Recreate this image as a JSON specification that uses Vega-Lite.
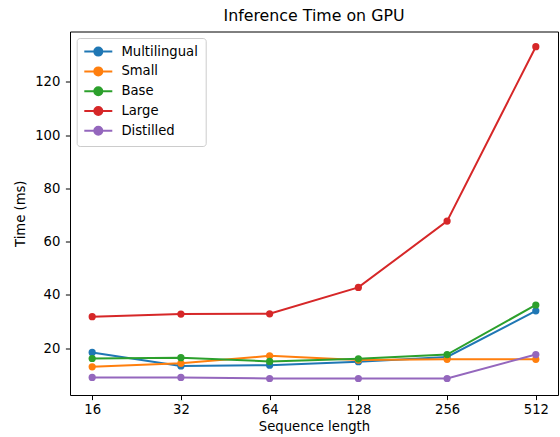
{
  "$schema": "https://vega.github.io/schema/vega-lite/v6.json",
  "autosize": {"type": "none"},
  "padding": {"left": 70, "top": 31.5, "right": 2, "bottom": 42},
  "width": 488,
  "height": 363.5,
  "background": "white",
  "title": {"text": "Inference Time on GPU", "fontSize": 15.8, "fontWeight": "normal", "font": "DejaVu Sans", "color": "black", "offset": 7},
  "data": {"values": [
    {"len": 16, "model": "Multilingual", "time": 18.4},
    {"len": 32, "model": "Multilingual", "time": 13.3},
    {"len": 64, "model": "Multilingual", "time": 13.6},
    {"len": 128, "model": "Multilingual", "time": 14.9},
    {"len": 256, "model": "Multilingual", "time": 16.7},
    {"len": 512, "model": "Multilingual", "time": 34.0},
    {"len": 16, "model": "Small", "time": 13.0},
    {"len": 32, "model": "Small", "time": 14.3},
    {"len": 64, "model": "Small", "time": 17.1},
    {"len": 128, "model": "Small", "time": 15.5},
    {"len": 256, "model": "Small", "time": 15.8},
    {"len": 512, "model": "Small", "time": 15.8},
    {"len": 16, "model": "Base", "time": 16.1},
    {"len": 32, "model": "Base", "time": 16.4},
    {"len": 64, "model": "Base", "time": 15.0},
    {"len": 128, "model": "Base", "time": 16.0},
    {"len": 256, "model": "Base", "time": 17.6},
    {"len": 512, "model": "Base", "time": 36.2},
    {"len": 16, "model": "Large", "time": 31.8},
    {"len": 32, "model": "Large", "time": 32.8},
    {"len": 64, "model": "Large", "time": 32.9},
    {"len": 128, "model": "Large", "time": 42.8},
    {"len": 256, "model": "Large", "time": 67.7},
    {"len": 512, "model": "Large", "time": 133.2},
    {"len": 16, "model": "Distilled", "time": 9.0},
    {"len": 32, "model": "Distilled", "time": 9.0},
    {"len": 64, "model": "Distilled", "time": 8.6},
    {"len": 128, "model": "Distilled", "time": 8.6},
    {"len": 256, "model": "Distilled", "time": 8.6},
    {"len": 512, "model": "Distilled", "time": 17.6}
  ]},
  "mark": {"type": "line", "strokeWidth": 2, "point": {"filled": true, "size": 52, "opacity": 1}},
  "encoding": {
    "x": {"field": "len", "type": "ordinal", "scale": {"type": "point", "padding": 0.25},
      "axis": {"title": "Sequence length", "labelAngle": 0, "titlePadding": 5}},
    "y": {"field": "time", "type": "quantitative", "scale": {"domain": [2.4, 138.9], "nice": false, "zero": false},
      "axis": {"title": "Time (ms)", "values": [20, 40, 60, 80, 100, 120], "titlePadding": 7, "labelPadding": 5.5}},
    "color": {"field": "model", "type": "nominal",
      "scale": {"domain": ["Multilingual", "Small", "Base", "Large", "Distilled"], "range": ["#1f77b4", "#ff7f0e", "#2ca02c", "#d62728", "#9467bd"]},
      "legend": {"title": null, "orient": "none", "legendX": 6.7, "legendY": 6.5,
        "symbolType": "M-3.5,0L3.5,0M-1,0A1,1,0,1,1,1,0A1,1,0,1,1,-1,0Z",
        "symbolSize": 64, "symbolStrokeWidth": 2, "symbolOffset": 8, "labelOffset": 16.5,
        "rowPadding": 2.8, "padding": 7, "strokeColor": "#cccccc", "fillColor": "rgba(255,255,255,0.8)", "cornerRadius": 3,
        "labelFontSize": 13.2, "labelFont": "DejaVu Sans", "labelColor": "black"}}
  },
  "config": {
    "font": "DejaVu Sans",
    "view": {"stroke": "black", "strokeWidth": 1},
    "axis": {"grid": false, "domain": false, "tickColor": "black", "tickSize": 4.6, "tickWidth": 1,
      "labelFontSize": 13.2, "labelColor": "black", "labelPadding": 4, "labelFont": "DejaVu Sans",
      "titleFontSize": 13.2, "titleFontWeight": "normal", "titleColor": "black", "titleFont": "DejaVu Sans"}
  }
}
